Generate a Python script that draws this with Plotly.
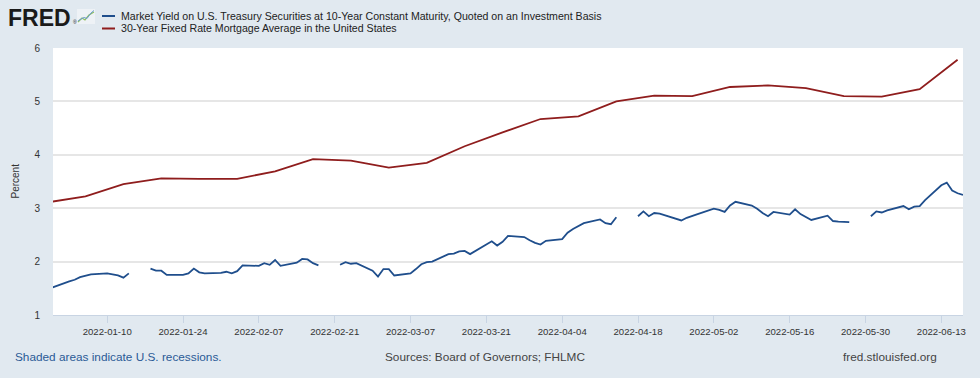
import pandas as pd
import plotly.graph_objects as go

# ---------------- data ----------------
treasury_name = "Market Yield on U.S. Treasury Securities at 10-Year Constant Maturity, Quoted on an Investment Basis"
mortgage_name = "30-Year Fixed Rate Mortgage Average in the United States"

# DGS10, business days 2021-12-30 .. 2022-06-17 (None = market holiday)
treasury_dates = pd.bdate_range("2021-12-30", "2022-06-17")
treasury_values = [
    1.55, 1.52,
    1.63, 1.66, 1.71, 1.73, 1.76,
    1.78, 1.76, 1.74, 1.70, 1.78,
    None, 1.87, 1.83, 1.83, 1.75,
    1.75, 1.78, 1.87, 1.80, 1.78,
    1.79, 1.81, 1.78, 1.82, 1.93,
    1.92, 1.97, 1.94, 2.03, 1.92,
    1.98, 2.05, 2.04, 1.97, 1.93,
    None, 1.94, 1.99, 1.96, 1.97,
    1.83, 1.72, 1.86, 1.86, 1.74,
    1.78, 1.86, 1.95, 1.99, 2.00,
    2.14, 2.15, 2.19, 2.20, 2.14,
    2.32, 2.38, 2.30, 2.37, 2.48,
    2.46, 2.40, 2.35, 2.32, 2.39,
    2.42, 2.54, 2.61, 2.66, 2.72,
    2.79, 2.72, 2.70, 2.83, None,
    2.85, 2.94, 2.85, 2.91, 2.90,
    2.81, 2.77, 2.82, 2.85, 2.89,
    2.99, 2.97, 2.93, 3.05, 3.12,
    3.05, 2.99, 2.91, 2.85, 2.93,
    2.88, 2.98, 2.89, 2.84, 2.78,
    2.86, 2.76, 2.75, 2.75, 2.74,
    None, 2.85, 2.94, 2.92, 2.96,
    3.04, 2.98, 3.03, 3.04, 3.15,
    3.43, 3.48, 3.33, 3.28, 3.25,
]

mortgage_dates = [
    "2021-12-30", "2022-01-06", "2022-01-13", "2022-01-20", "2022-01-27",
    "2022-02-03", "2022-02-10", "2022-02-17", "2022-02-24", "2022-03-03",
    "2022-03-10", "2022-03-17", "2022-03-24", "2022-03-31", "2022-04-07",
    "2022-04-14", "2022-04-21", "2022-04-28", "2022-05-05", "2022-05-12",
    "2022-05-19", "2022-05-26", "2022-06-02", "2022-06-09", "2022-06-16",
]
mortgage_values = [
    3.11, 3.22, 3.45, 3.56, 3.55,
    3.55, 3.69, 3.92, 3.89, 3.76,
    3.85, 4.16, 4.42, 4.67, 4.72,
    5.00, 5.11, 5.10, 5.27, 5.30,
    5.25, 5.10, 5.09, 5.23, 5.78,
]

x_range = ["2021-12-31", "2022-06-17"]
y_ticks = [1, 2, 3, 4, 5, 6]
x_tick_start = "2022-01-10"

# ---------------- style ----------------
W, H = 980, 378
ML, MR, MT, MB = 53, 17, 48, 63
PW, PH = W - ML - MR, H - MT - MB
BG = "#e1e9f0"
BLUE = "#1f4e8c"
RED = "#8f1d1d"
FONT = "Liberation Sans, Arial, sans-serif"


def px(x):
    return (x - ML) / PW


def py(y):
    return (H - MB - y) / PH


fig = go.Figure()
fig.add_trace(go.Scatter(x=treasury_dates, y=treasury_values, mode="lines",
                         name=treasury_name, connectgaps=False,
                         line=dict(color=BLUE, width=1.8)))
fig.add_trace(go.Scatter(x=mortgage_dates, y=mortgage_values, mode="lines",
                         name=mortgage_name,
                         line=dict(color=RED, width=1.8)))

shapes = []
# legend keys
shapes.append(dict(type="line", xref="paper", yref="paper", x0=px(102), x1=px(115),
                   y0=py(16), y1=py(16), line=dict(color=BLUE, width=2)))
shapes.append(dict(type="line", xref="paper", yref="paper", x0=px(102), x1=px(115),
                   y0=py(28.5), y1=py(28.5), line=dict(color=RED, width=2)))
# FRED logo icon
shapes.append(dict(type="rect", xref="paper", yref="paper", x0=px(77), x1=px(95),
                   y0=py(24), y1=py(9), fillcolor="#eef2f6", line=dict(width=0)))


def path(points):
    s = "M " + " L ".join(f"{px(a):.5f},{py(b):.5f}" for a, b in points)
    return s


shapes.append(dict(type="path", xref="paper", yref="paper",
                   path=path([(78, 22), (82, 18), (85, 20), (89, 15), (94, 12)]),
                   line=dict(color="#8fbf5a", width=1.2)))
shapes.append(dict(type="path", xref="paper", yref="paper",
                   path=path([(78, 21), (81, 19), (84, 17.5), (87, 18.5), (91, 13), (94, 10.5)]),
                   line=dict(color="#6b9bd1", width=1)))

annotations = [
    dict(text="<b>FRED</b>", x=px(6), y=py(17.5), xref="paper", yref="paper",
         xanchor="left", yanchor="middle", showarrow=False,
         font=dict(family=FONT, size=23, color="#1a1a1a")),
    dict(text="®", x=px(71), y=py(22), xref="paper", yref="paper",
         xanchor="left", yanchor="middle", showarrow=False,
         font=dict(family=FONT, size=5, color="#1a1a1a")),
    dict(text=treasury_name, x=px(119), y=py(16), xref="paper", yref="paper",
         xanchor="left", yanchor="middle", showarrow=False,
         font=dict(family=FONT, size=10.6, color="#222222")),
    dict(text=mortgage_name, x=px(119), y=py(28.5), xref="paper", yref="paper",
         xanchor="left", yanchor="middle", showarrow=False,
         font=dict(family=FONT, size=10.6, color="#222222")),
    dict(text="Percent", x=px(15), y=0.5, xref="paper", yref="paper",
         xanchor="center", yanchor="middle", textangle=-90, showarrow=False,
         font=dict(family=FONT, size=10, color="#333333")),
    dict(text="Shaded areas indicate U.S. recessions.", x=px(13), y=py(357),
         xref="paper", yref="paper", xanchor="left", yanchor="middle", showarrow=False,
         font=dict(family=FONT, size=11.8, color="#2a5a96")),
    dict(text="Sources: Board of Governors; FHLMC", x=px(485), y=py(357),
         xref="paper", yref="paper", xanchor="center", yanchor="middle", showarrow=False,
         font=dict(family=FONT, size=11.8, color="#444444")),
    dict(text="fred.stlouisfed.org", x=px(939), y=py(357),
         xref="paper", yref="paper", xanchor="right", yanchor="middle", showarrow=False,
         font=dict(family=FONT, size=11.8, color="#444444")),
]

fig.update_layout(
    width=W, height=H, autosize=False,
    margin=dict(l=ML, r=MR, t=MT, b=MB, pad=0),
    paper_bgcolor=BG, plot_bgcolor="#ffffff",
    showlegend=False,
    font=dict(family=FONT, size=10, color="#333333"),
    shapes=shapes, annotations=annotations,
    xaxis=dict(
        type="date", range=x_range,
        tick0=x_tick_start, dtick=14 * 86400000, tickformat="%Y-%m-%d",
        ticks="outside", ticklen=7, tickwidth=1, tickcolor="#c8d4e3",
        showline=True, linecolor="#c8d4e3", linewidth=1,
        showgrid=False, zeroline=False,
        tickfont=dict(family=FONT, size=9.6, color="#333333"),
    ),
    yaxis=dict(
        range=[1, 6], tickvals=y_ticks, ticks="",
        showgrid=True, gridcolor="#e6e6e6", gridwidth=1.5,
        zeroline=False, showline=False, ticklabelstandoff=12,
        tickfont=dict(family=FONT, size=10, color="#333333"),
    ),
)

fig.write_html(
    "out.html",
    config={"displayModeBar": False},
    post_script="document.body.style.margin='0';document.body.style.background='%s';" % BG,
)
